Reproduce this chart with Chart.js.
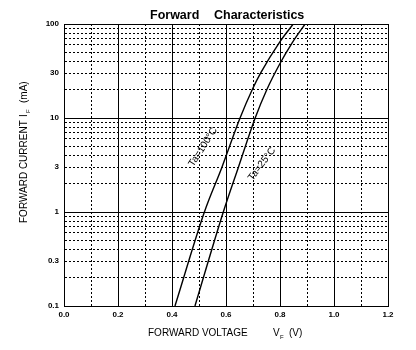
<!DOCTYPE html>
<html>
<head>
<meta charset="utf-8">
<script src="https://cdn.jsdelivr.net/npm/chart.js@4/dist/chart.umd.min.js"></script>
<style>
  html, body { margin: 0; padding: 0; background: #fff; }
  canvas { display: block; }
</style>
</head>
<body>
<canvas id="vfChart" width="416" height="350"></canvas>
<script>
"use strict";
// forward voltage (V) / forward current (mA)
var vf100 = [0.411, 0.52, 0.585, 0.652, 0.697, 0.728, 0.80, 0.849];
var if100 = [0.1, 1, 3, 10, 20, 30, 65, 100];
var vf25 = [0.485, 0.59, 0.646, 0.708, 0.751, 0.80, 0.845, 0.893];
var if25 = [0.1, 1, 3, 10, 20, 38, 63, 100];

var xTicks = [0, 0.1, 0.2, 0.3, 0.4, 0.5, 0.6, 0.7, 0.8, 0.9, 1.0, 1.1, 1.2];
var xLabels = ['0.0', '', '0.2', '', '0.4', '', '0.6', '', '0.8', '', '1.0', '', '1.2'];
var yTicks = [0.1, 0.2, 0.3, 0.4, 0.5, 0.6, 0.7, 0.8, 0.9,
  1, 2, 3, 4, 5, 6, 7, 8, 9, 10, 20, 30, 40, 50, 60, 70, 80, 90, 100];
var yLabels = [0.1, 0.3, 1, 3, 10, 30, 100];
var ySolid = [0.1, 1, 10, 100];

var curveNames = ['Ta=100\u00B0C', 'Ta=25\u00B0C'];
var FONT = '"Liberation Sans", Arial, sans-serif';

function toPoints(xs, ys) {
  return xs.map(function (v, i) { return { x: v, y: ys[i] }; });
}

function isSolidY(v) {
  return ySolid.some(function (s) { return Math.abs(s - v) < 1e-9; });
}
function isSolidX(v) {
  return Math.round(v * 10) % 2 === 0;
}

// title, axis titles with subscripts, curve captions
var textLayer = {
  id: 'textLayer',
  afterDraw: function (chart) {
    var c = chart.ctx;
    var xs = chart.scales.x, ys = chart.scales.y;
    c.save();
    c.fillStyle = '#000';
    c.textBaseline = 'alphabetic';
    c.textAlign = 'left';

    c.font = 'bold 12.5px ' + FONT;
    c.fillText('Forward', 150, 19);
    c.fillText('Characteristics', 214, 19);

    // x axis title
    c.font = '10px ' + FONT;
    c.fillText('FORWARD VOLTAGE', 148, 335.5);
    c.fillText('V', 273, 335.5);
    c.fillText('(V)', 289, 335.5);
    c.font = '6px ' + FONT;
    c.fillText('F', 280, 338.5);

    // y axis title
    c.save();
    c.translate(26.5, 223);
    c.rotate(-Math.PI / 2);
    c.font = '10px ' + FONT;
    c.fillText('FORWARD CURRENT', 0, 0);
    c.fillText('I', 106, 0);
    c.fillText('(mA)', 120, 0);
    c.font = '6px ' + FONT;
    c.fillText('F', 110, 3);
    c.restore();

    // curve captions
    c.font = '10px ' + FONT;
    c.textAlign = 'center';
    c.textBaseline = 'middle';
    var caps = [
      { text: curveNames[0], v: 0.515, i: 4.9, ang: -57 },
      { text: curveNames[1], v: 0.733, i: 3.24, ang: -53 }
    ];
    caps.forEach(function (cp) {
      c.save();
      c.translate(xs.getPixelForValue(cp.v), ys.getPixelForValue(cp.i));
      c.rotate(cp.ang * Math.PI / 180);
      c.fillText(cp.text, 0, 0);
      c.restore();
    });
    c.restore();
  }
};

var vfChart = new Chart(document.getElementById('vfChart').getContext('2d'), {
  type: 'scatter',
  data: {
    datasets: [{
      label: curveNames[0],
      data: toPoints(vf100, if100)
    }, {
      label: curveNames[1],
      data: toPoints(vf25, if25)
    }]
  },
  options: {
    responsive: false,
    animation: false,
    showLine: true,
    layout: { padding: { top: 24, right: 28, left: 0, bottom: 0 } },
    elements: {
      point: { radius: 0 },
      line: { borderColor: '#000', borderWidth: 1.4, cubicInterpolationMode: 'monotone' }
    },
    plugins: {
      legend: { display: false },
      tooltip: { enabled: false },
      title: { display: false }
    },
    scales: {
      x: {
        type: 'linear',
        min: 0,
        max: 1.2,
        afterBuildTicks: function (s) {
          s.ticks = xTicks.map(function (v) { return { value: v }; });
        },
        afterFit: function (s) { s.height = 44; },
        ticks: {
          autoSkip: false,
          maxRotation: 0,
          padding: 4,
          color: '#000',
          font: { family: FONT, size: 8, weight: 'bold' },
          callback: function (v, idx) { return xLabels[idx]; }
        },
        grid: {
          drawTicks: false,
          color: '#000',
          lineWidth: 1
        },
        border: {
          color: '#000',
          width: 1,
          dash: function (ctx) {
            return ctx.tick && !isSolidX(ctx.tick.value) ? [2, 2] : [];
          }
        }
      },
      y: {
        type: 'logarithmic',
        min: 0.1,
        max: 100,
        afterBuildTicks: function (s) {
          s.ticks = yTicks.map(function (v) { return { value: v }; });
        },
        afterFit: function (s) { s.width = 64; },
        ticks: {
          autoSkip: false,
          padding: 5,
          color: '#000',
          font: { family: FONT, size: 8, weight: 'bold' },
          callback: function (v) {
            return yLabels.some(function (l) { return Math.abs(l - v) < 1e-9; }) ? String(v) : '';
          }
        },
        grid: {
          drawTicks: false,
          color: '#000',
          lineWidth: 1
        },
        border: {
          color: '#000',
          width: 1,
          dash: function (ctx) {
            return ctx.tick && !isSolidY(ctx.tick.value) ? [2, 2] : [];
          }
        }
      }
    }
  },
  plugins: [textLayer]
});
</script>
</body>
</html>
